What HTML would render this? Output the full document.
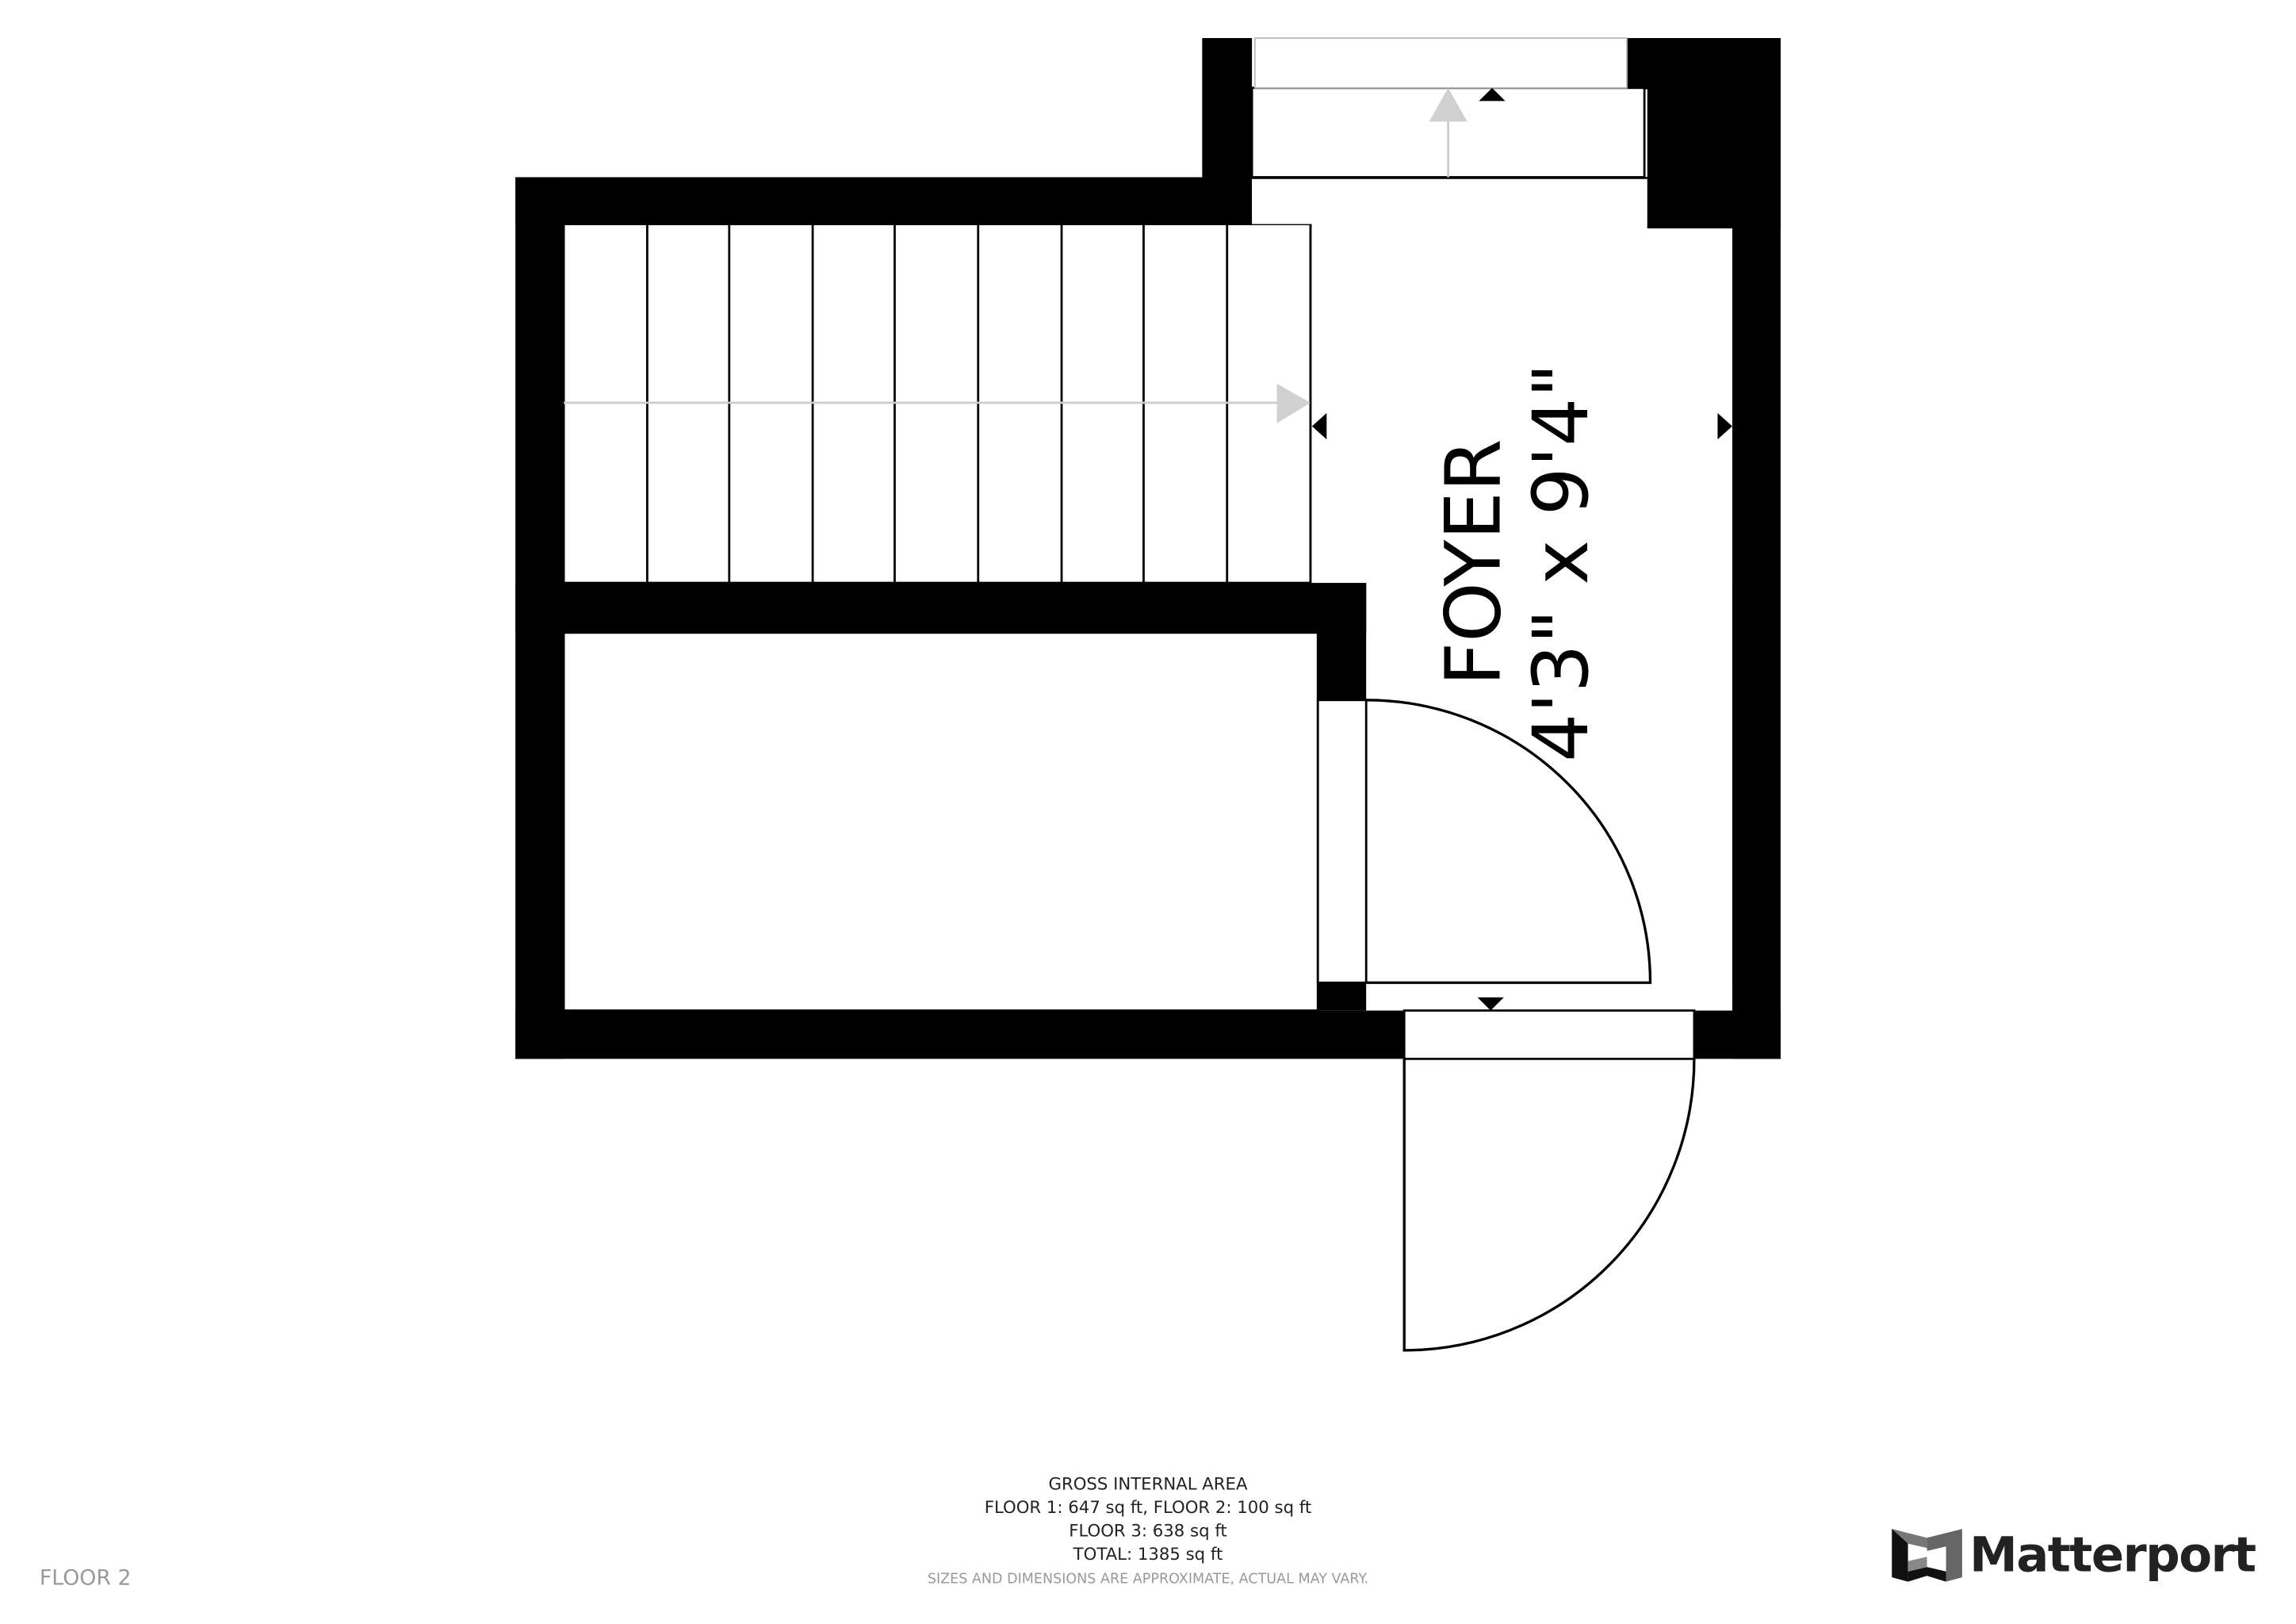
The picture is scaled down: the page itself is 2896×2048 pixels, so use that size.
<!DOCTYPE html>
<html><head><meta charset="utf-8"><style>html,body{margin:0;padding:0;background:#fff}svg{display:block}</style></head>
<body>
<svg width="2896" height="2048" viewBox="0 0 1568 1108.9" preserveAspectRatio="none" xmlns="http://www.w3.org/2000/svg">
<rect width="1568" height="1109" fill="#fff"/>
<g fill="#000">
<rect x="352" y="121" width="503" height="32"/>
<rect x="821" y="26" width="34" height="127"/>
<rect x="1111" y="26" width="105" height="35"/>
<rect x="1125" y="26" width="91" height="130"/>
<rect x="1183" y="26" width="33" height="697"/>
<rect x="352" y="121" width="33" height="602"/>
<rect x="352" y="398" width="581" height="34"/>
<rect x="900" y="398" width="33" height="80"/>
<rect x="352" y="690" width="864" height="33"/>
</g>
<g fill="#fff" stroke="#000" stroke-width="1.5">
<rect x="385" y="153" width="510" height="245" fill="#fff"/>
<rect x="385" y="432" width="515" height="258"/>
<rect x="900" y="478" width="33" height="193"/>
<rect x="933" y="671" width="250" height="19" stroke="none"/>
<rect x="900" y="671" width="33" height="19" fill="#000" stroke="none"/>
<rect x="959" y="690" width="198" height="33"/>
<rect x="855" y="60" width="268" height="61"/>
<rect x="857" y="26" width="254" height="34" stroke="#bbb" stroke-width="1"/>
</g>
<rect x="855" y="121" width="270" height="32" fill="#fff"/>
<rect x="1125" y="121" width="58" height="35" fill="#000"/>
<rect x="895" y="156" width="288" height="242" fill="#fff"/>
<line x1="855" y1="121.5" x2="1125" y2="121.5" stroke="#000" stroke-width="1.5"/>
<g stroke="#000" stroke-width="1.5">
<line x1="442" y1="153" x2="442" y2="398"/><line x1="498" y1="153" x2="498" y2="398"/>
<line x1="555" y1="153" x2="555" y2="398"/><line x1="611" y1="153" x2="611" y2="398"/>
<line x1="668" y1="153" x2="668" y2="398"/><line x1="725" y1="153" x2="725" y2="398"/>
<line x1="781" y1="153" x2="781" y2="398"/><line x1="838" y1="153" x2="838" y2="398"/>
<line x1="895" y1="153" x2="895" y2="398"/>
</g>
<line x1="385" y1="275" x2="872" y2="275" stroke="#ccc" stroke-width="1.5"/>
<polygon points="872,262 872,289 895,275" fill="#d0d0d0"/>
<line x1="989" y1="121" x2="989" y2="80" stroke="#ccc" stroke-width="1.5"/>
<polygon points="976,83 1002,83 989,60" fill="#d0d0d0"/>
<g fill="none" stroke="#000" stroke-width="1.8">
<path d="M933,478 A194,193 0 0 1 1127,671 L933,671"/>
<path d="M959,723 L959,922 A198,199 0 0 0 1157,723"/>
</g>
<g fill="#000">
<polygon points="1010,69 1028,69 1019,60"/>
<polygon points="1009,681 1027,681 1018,690"/>
<polygon points="906,282 906,300 896,291"/>
<polygon points="1173,282 1173,300 1183,291"/>
</g>
<g font-family="'DejaVu Sans','Liberation Sans',sans-serif" font-size="52" fill="#000" text-anchor="middle">
<text transform="translate(1024,384) rotate(-90)">FOYER</text>
<text transform="translate(1084,384) rotate(-90)">4'3" x 9'4"</text>
</g>
<g font-family="'DejaVu Sans','Liberation Sans',sans-serif" font-size="11.5" fill="#222" text-anchor="middle">
<text x="784" y="1017">GROSS INTERNAL AREA</text>
<text x="784" y="1033">FLOOR 1: 647 sq ft, FLOOR 2: 100 sq ft</text>
<text x="784" y="1049">FLOOR 3: 638 sq ft</text>
<text x="784" y="1065">TOTAL: 1385 sq ft</text>
<text x="784" y="1081" font-size="9.5" fill="#999">SIZES AND DIMENSIONS ARE APPROXIMATE, ACTUAL MAY VARY.</text>
</g>
<text x="27" y="1082" font-family="'DejaVu Sans','Liberation Sans',sans-serif" font-size="14.5" fill="#999">FLOOR 2</text>
<g>
<polygon points="1292,1044 1303,1047 1303,1080 1292,1077" fill="#111"/>
<polygon points="1292,1044 1316,1050 1316,1057 1303,1054" fill="#777"/>
<polygon points="1316,1050 1340,1044 1340,1077 1329,1080 1329,1056 1316,1059" fill="#666"/>
<polygon points="1303,1073 1316,1070 1329,1073 1329,1080 1316,1076 1303,1080" fill="#111"/>
<polygon points="1303,1066 1316,1063 1316,1070 1303,1073" fill="#888"/>
</g>
<text x="1345" y="1073" font-family="'DejaVu Sans','Liberation Sans',sans-serif" font-weight="bold" font-size="33" fill="#222" textLength="196">Matterport</text>
</svg>
</body></html>
